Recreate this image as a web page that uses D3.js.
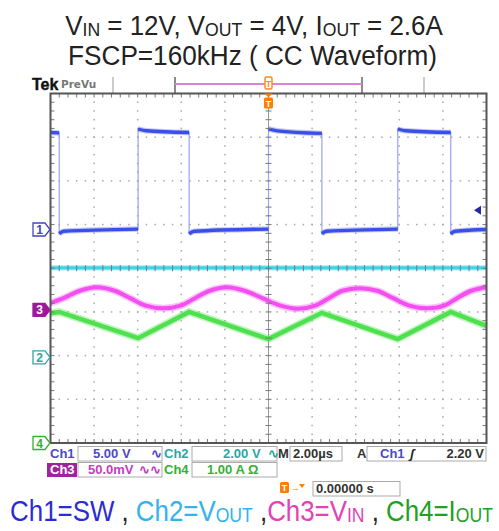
<!DOCTYPE html>
<html><head><meta charset="utf-8">
<script src="https://cdn.jsdelivr.net/npm/d3@7"></script>
<style>body{margin:0;background:#fff} svg{display:block}</style>
</head><body>
<svg id="c" width="499" height="531"></svg>
<script>
// ---------------- data ----------------
const timeDomain = [-10, 10]; // µs, 2.00 µs/div
const ch1Time = [-10, -9.6, -9.6, -9.4, -5.98, -5.98, -5.6, -3.64, -3.64, -3.4, 0, 0, 0.4, 2.45, 2.45, 2.65, 5.93, 5.93, 6.3, 8.36, 8.36, 8.56, 10];
const ch1Volt = [11.1, 11.05, -0.5, -0.2, 0.05, 11.5, 11.3, 11.1, -0.5, -0.2, 0.05, 11.5, 11.3, 11.0, -0.5, -0.2, 0.05, 11.5, 11.3, 11.1, -0.5, -0.2, 0.0];
const ch2Time = [-10, 10];
const ch2Volt = [4.1, 4.1];
const ch3Time = [-10, -9.4, -8.66, -7.86, -7.06, -6.35, -5.63, -4.83, -4.03, -3.37, -2.7, -1.9, -1.1, -0.28, 0.55, 1.35, 2.15, 2.77, 3.39, 4.19, 4.99, 5.72, 6.46, 7.26, 8.06, 8.65, 9.3, 10];
const ch3MilliVolt = [8, 13.5, 22, 26, 22, 13.5, 5, 2, 5, 13.5, 22, 26, 22, 13.5, 5, 1.5, 5, 13.5, 22, 25, 22, 13.5, 5, 2, 5, 13.5, 22, 26];
const ch4Time = [-10, -9.6, -5.98, -3.64, 0, 2.45, 5.93, 8.36, 10];
const ch4Amp = [2.97, 3.0, 2.40, 3.0, 2.38, 2.98, 2.38, 3.0, 2.68];

const channelNames = ["1", "2", "3", "4"];
const channelScalePerDiv = [5, 2, 50, 1];       // V, V, mV, A per div
const channelOffsetDiv = [0.887, -2.04, -0.955, -4.0];
const channelColors = ["#3a4ee8", "#3cd4e6", "#f24ef0", "#4ee04e"];
const channelTextColors = ["#4343c4", "#2aa6a6", "#c23ec0", "#34b034"];

const title1Parts = [["V", 0], ["IN", 1], [" = 12V, V", 0], ["OUT", 1], [" = 4V, I", 0], ["OUT", 1], [" = 2.6A", 0]];
const title2Parts = [["FSCP=160kHz ( CC Waveform)", 0]];
const legendParts = [["Ch1=SW", "#2b2bd4", 0], [" , ", "#222", 0], ["Ch2=V", "#33b2f0", 0], ["OUT", "#33b2f0", 1], [" ,", "#222", 0],
  ["Ch3=V", "#e044b6", 0], ["IN", "#e044b6", 1], [" , ", "#222", 0], ["Ch4=I", "#22a022", 0], ["OUT", "#22a022", 1]];

const row1 = { ch1Label: "Ch1", ch1Val: "5.00 V", ch2Label: "Ch2", ch2Val: "2.00 V", mLabel: "M", mVal: "2.00µs", aLabel: "A", trigCh: "Ch1", trigVal: "2.20 V" };
const row2 = { ch3Label: "Ch3", ch3Val: "50.0mV", ch4Label: "Ch4", ch4Val: "1.00 A \u03A9" };
const row3 = { posVal: "0.00000 s" };
const trigLevelV = 2.2;

// ---------------- layout ----------------
const svg = d3.select("#c");
const L = 50.5, R = 486.5, T = 93.5, B = 443;
const nx = 10, ny = 8;
const dw = (R - L) / nx, dh = (B - T) / ny;
const x = d3.scaleLinear().domain(timeDomain).range([L, R]);
const yScales = channelScalePerDiv.map((v, i) => d3.scaleLinear()
  .domain([(-4 - channelOffsetDiv[i]) * v, (4 - channelOffsetDiv[i]) * v]).range([B, T]));

function fitText(sel, cx, width) {
  const w = sel.node().getBBox().width;
  sel.attr("transform", `translate(${cx},0) scale(${width / w},1) translate(${-cx},0)`);
}

// ---------------- titles ----------------
function partsText(parts, cx, y, size, colorDefault) {
  const t = svg.append("text").attr("x", cx).attr("y", y).attr("text-anchor", "middle")
    .attr("font-family", "Liberation Sans, Arial, sans-serif").attr("font-size", size).attr("fill", colorDefault);
  let prevSub = 0;
  parts.forEach(p => {
    const sub = p[p.length - 1];
    const ts = t.append("tspan").text(p[0]);
    if (p.length === 3) ts.attr("fill", p[1]);
    if (sub) ts.attr("font-size", size * 0.68).attr("dy", prevSub ? 0 : 1);
    else if (prevSub) ts.attr("dy", -1);
    prevSub = sub;
  });
  return t;
}
fitText(partsText(title1Parts, 254, 35, 28, "#222"), 254, 378);
fitText(partsText(title2Parts, 252.5, 65, 28, "#222"), 252.5, 369);
fitText(partsText(legendParts, 251.5, 521, 30, "#222"), 251.5, 483);

// ---------------- top status bar ----------------
svg.append("text").attr("x", 32).attr("y", 90).attr("font-family", "Liberation Sans, Arial").attr("font-weight", "bold")
  .attr("font-size", 16).attr("fill", "#111").attr("stroke", "#111").attr("stroke-width", 0.4).text("Tek");
svg.append("text").attr("x", 61).attr("y", 88).attr("font-family", "DejaVu Sans, sans-serif").attr("font-weight", "bold")
  .attr("font-size", 10.5).attr("fill", "#777").text("PreVu");
[[113, "#bbb"], [175, "#666"], [362, "#666"], [424, "#bbb"]].forEach(d => {
  svg.append("line").attr("x1", d[0]).attr("x2", d[0]).attr("y1", 77).attr("y2", T).attr("stroke", d[1]).attr("stroke-width", 1.5);
});
svg.append("line").attr("x1", 175).attr("x2", 362).attr("y1", 84).attr("y2", 84).attr("stroke", "#d585d5").attr("stroke-width", 2);

// ---------------- graticule ----------------
const g = svg.append("g");
const sub = 5;
for (let i = 1; i < nx; i++) {
  if (i === nx / 2) continue;
  for (let j = 1; j < ny * sub; j++) {
    g.append("rect").attr("x", L + i * dw - 0.75).attr("y", T + j * dh / sub - 0.75).attr("width", 1.5).attr("height", 1.5).attr("fill", "#a8a8a8");
  }
}
for (let j = 1; j < ny; j++) {
  if (j === ny / 2) continue;
  for (let i = 1; i < nx * sub; i++) {
    g.append("rect").attr("x", L + i * dw / sub - 0.75).attr("y", T + j * dh - 0.75).attr("width", 1.5).attr("height", 1.5).attr("fill", "#a8a8a8");
  }
}
const cx0 = L + dw * nx / 2, cy0 = T + dh * ny / 2;
g.append("line").attr("x1", cx0).attr("x2", cx0).attr("y1", T).attr("y2", B).attr("stroke", "#999").attr("stroke-width", 1);
g.append("line").attr("x1", L).attr("x2", R).attr("y1", cy0).attr("y2", cy0).attr("stroke", "#999").attr("stroke-width", 1);
const tickG = svg.append("g").attr("stroke", "#777").attr("stroke-width", 1);
for (let j = 1; j < ny * sub; j++) {
  const yy = T + j * dh / sub;
  tickG.append("line").attr("x1", cx0 - 3).attr("x2", cx0 + 3).attr("y1", yy).attr("y2", yy);
  tickG.append("line").attr("x1", L).attr("x2", L + 4).attr("y1", yy).attr("y2", yy);
  tickG.append("line").attr("x1", R - 4).attr("x2", R).attr("y1", yy).attr("y2", yy);
}
for (let i = 1; i < nx * sub; i++) {
  const xx = L + i * dw / sub;
  tickG.append("line").attr("x1", xx).attr("x2", xx).attr("y1", T).attr("y2", T + 4);
  tickG.append("line").attr("x1", xx).attr("x2", xx).attr("y1", B - 4).attr("y2", B);
}

// ---------------- waveforms ----------------
const wave = svg.append("g");
function zipPts(ts, vs) { return ts.map((t, i) => [t, vs[i]]); }

// Ch2
const ch2Pts = zipPts(ch2Time, ch2Volt);
const line2 = d3.line().x(d => x(d[0])).y(d => yScales[1](d[1]));
wave.append("path").attr("d", line2(ch2Pts)).attr("fill", "none").attr("stroke", channelColors[1]).attr("stroke-width", 5.5).attr("opacity", 0.35);
wave.append("path").attr("d", line2(ch2Pts)).attr("fill", "none").attr("stroke", channelColors[1]).attr("stroke-width", 3.2);

// Ch3
const ch3Pts = zipPts(ch3Time, ch3MilliVolt);
const line3 = d3.line().x(d => x(d[0])).y(d => yScales[2](d[1])).curve(d3.curveCatmullRom);
wave.append("path").attr("d", line3(ch3Pts)).attr("fill", "none").attr("stroke", channelColors[2]).attr("stroke-width", 7).attr("opacity", 0.35);
wave.append("path").attr("d", line3(ch3Pts)).attr("fill", "none").attr("stroke", channelColors[2]).attr("stroke-width", 4);

// Ch4
const ch4Pts = zipPts(ch4Time, ch4Amp);
const line4 = d3.line().x(d => x(d[0])).y(d => yScales[3](d[1]));
wave.append("path").attr("d", line4(ch4Pts)).attr("fill", "none").attr("stroke", channelColors[3]).attr("stroke-width", 7.5).attr("opacity", 0.35);
wave.append("path").attr("d", line4(ch4Pts)).attr("fill", "none").attr("stroke", channelColors[3]).attr("stroke-width", 4.5);

// Ch1
const ch1Pts = zipPts(ch1Time, ch1Volt);
const line1 = d3.line().x(d => x(d[0])).y(d => yScales[0](d[1]));
wave.append("path").attr("d", line1(ch1Pts)).attr("fill", "none").attr("stroke", "#9aa2f2").attr("stroke-width", 1.2);
let seg = [];
const segs = [];
ch1Pts.forEach((p, i) => {
  if (i > 0 && p[0] === ch1Pts[i - 1][0]) { segs.push(seg); seg = []; }
  seg.push(p);
});
segs.push(seg);
const line1s = d3.line().x(d => x(d[0])).y(d => yScales[0](d[1])).curve(d3.curveMonotoneX);
segs.forEach(s => {
  wave.append("path").attr("d", line1s(s)).attr("fill", "none").attr("stroke", channelColors[0]).attr("stroke-width", 5.5).attr("opacity", 0.3);
  wave.append("path").attr("d", line1s(s)).attr("fill", "none").attr("stroke", channelColors[0]).attr("stroke-width", 3.3);
});

for (let i = 1; i < nx * sub; i++) {
  const xx = L + i * dw / sub;
  tickG.append("line").attr("x1", xx).attr("x2", xx).attr("y1", cy0 - 3).attr("y2", cy0 + 3);
}
tickG.raise();

svg.append("rect").attr("x", L).attr("y", T).attr("width", R - L).attr("height", B - T)
  .attr("fill", "none").attr("stroke", "#555").attr("stroke-width", 2);

// ---------------- channel ground markers ----------------
channelNames.forEach((n, i) => {
  const yy = Math.min(yScales[i](0), B + 2);
  const filled = i === 2;
  const mg = svg.append("g").attr("transform", `translate(0,${yy})`);
  mg.append("path").attr("d", "M33,-6.5 L45,-6.5 L50,0 L45,6.5 L33,6.5 Z")
    .attr("fill", filled ? "#9c1a98" : "#fff").attr("stroke", filled ? "#9c1a98" : channelTextColors[i]).attr("stroke-width", 1.3);
  mg.append("text").attr("x", 39.5).attr("y", 4.5).attr("text-anchor", "middle").attr("font-family", "Liberation Sans, Arial")
    .attr("font-weight", "bold").attr("font-size", 12).attr("fill", filled ? "#fff" : channelTextColors[i]).text(n);
});

const ty = yScales[0](trigLevelV);
svg.append("path").attr("d", `M474,${ty} L481,${ty - 4.5} L481,${ty + 4.5} Z`).attr("fill", "#2626a8");

svg.append("rect").attr("x", cx0 - 3.5).attr("y", 77).attr("width", 7).attr("height", 12).attr("rx", 1.5)
  .attr("fill", "#fff").attr("stroke", "#ff8a1a").attr("stroke-width", 1.5);
svg.append("text").attr("x", cx0).attr("y", 87).attr("text-anchor", "middle").attr("font-family", "Liberation Sans, Arial")
  .attr("font-weight", "bold").attr("font-size", 9).attr("fill", "#ff8a1a").text("T");
svg.append("path").attr("d", `M${cx0 - 4},${T} L${cx0 + 4},${T} L${cx0},${T + 4} Z`).attr("fill", "#ff7f00");
svg.append("rect").attr("x", cx0 - 4.5).attr("y", T + 4).attr("width", 9).attr("height", 11).attr("rx", 1.5).attr("fill", "#ff7f00");
svg.append("text").attr("x", cx0).attr("y", T + 13).attr("text-anchor", "middle").attr("font-family", "Liberation Sans, Arial")
  .attr("font-weight", "bold").attr("font-size", 9).attr("fill", "#fff").text("T");

// ---------------- readouts ----------------
const ro = svg.append("g").attr("font-family", "Liberation Sans, Arial, sans-serif").attr("font-weight", "bold").attr("font-size", 13);
function box(x0, x1, y0, y1) {
  ro.append("rect").attr("x", x0).attr("y", y0).attr("width", x1 - x0).attr("height", y1 - y0).attr("fill", "none").attr("stroke", "#aaa").attr("stroke-width", 1);
}
function txt(xx, yy, s, c, anchor) {
  return ro.append("text").attr("x", xx).attr("y", yy).attr("fill", c).attr("text-anchor", anchor || "start").text(s);
}
const r1 = 458, r2 = 474, r3 = 493;
txt(50, r1, row1.ch1Label, "#4a4ac8");
box(78, 162, 446.5, 461);
txt(93, r1, row1.ch1Val, "#4a4ac8");
txt(151, r1, "\u223F", "#4a4ac8");
txt(164, r1, row1.ch2Label, "#2aa6a6");
box(192, 277, 446.5, 461);
txt(223, r1, row1.ch2Val, "#2aa6a6");
txt(268, r1, "\u223F", "#2aa6a6");
txt(278, r1, row1.mLabel, "#333");
box(290, 342, 446.5, 461);
txt(293, r1, row1.mVal, "#333");
txt(357, r1, row1.aLabel, "#333");
box(367, 486, 446.5, 461);
txt(380, r1, row1.trigCh, "#4a4ac8");
txt(410, r1, "\u0283", "#222").attr("font-style", "italic");
txt(484, r1, row1.trigVal, "#333", "end");
ro.append("rect").attr("x", 47).attr("y", 463).attr("width", 30).attr("height", 14).attr("fill", "#a0239c");
txt(50, r2, row2.ch3Label, "#fff");
box(78, 162, 462.5, 477);
txt(88, r2, row2.ch3Val, "#c23ec0");
txt(139, r2, "\u223F\u223F", "#c23ec0");
txt(164, r2, row2.ch4Label, "#34b034");
box(192, 277, 462.5, 477);
txt(207, r2, row2.ch4Val, "#34b034");
ro.append("rect").attr("x", 280).attr("y", 482).attr("width", 9).attr("height", 11).attr("rx", 1.5).attr("fill", "#ff7f00");
txt(284.5, 491, "T", "#fff", "middle").attr("font-size", 9);
txt(291, 491, "\u2192", "#ff7f00").attr("font-size", 9);
ro.append("path").attr("d", "M299,484 L305,484 L302,488 Z").attr("fill", "#ff7f00");
box(313, 400, 481.5, 496);
txt(316, r3, row3.posVal, "#333");
</script>
</body></html>
